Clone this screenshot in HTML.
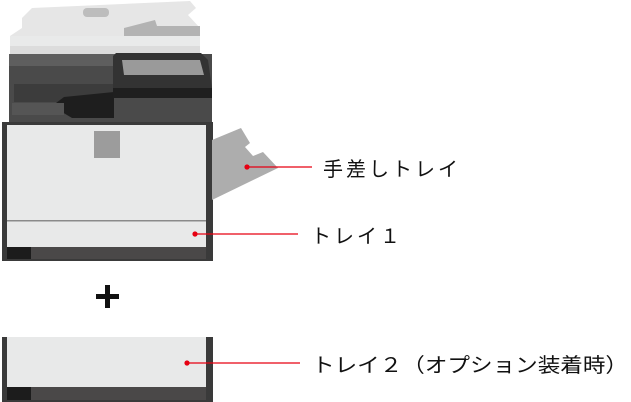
<!DOCTYPE html>
<html><head><meta charset="utf-8"><style>html,body{margin:0;padding:0;background:#fff}svg{display:block}</style></head>
<body>
<svg width="631" height="402" viewBox="0 0 631 402" xmlns="http://www.w3.org/2000/svg" font-family="'Liberation Sans','Noto Sans CJK JP',sans-serif">
<!-- scanner top -->
<polygon points="22,18 32,8 190,1 196,8 188,15 200,28 200,56 10,56 10,36 22,28" fill="#e6e6e6"/>
<polygon points="10,36 200,36 200,56 10,56" fill="#e9eaea"/>
<rect x="10" y="46" width="190" height="9" fill="#dcdcdc"/>
<rect x="83" y="8" width="26" height="9" rx="4" fill="#bdbdbd"/>
<polygon points="124,28 155,20 157,26 200,26 200,36 124,36" fill="#b3b3b3"/>
<!-- body dark upper -->
<rect x="9" y="54" width="203" height="70" fill="#4a4a4a"/>
<rect x="9" y="54" width="106" height="12" fill="#5e5e5e"/>
<rect x="14" y="84" width="100" height="18" fill="#3c3c3c"/>
<polygon points="52,106 64,97 114,92 114,118 72,118" fill="#1e1e1e"/>
<rect x="12" y="103" width="52" height="12" fill="#555"/>
<!-- control panel -->
<polygon points="113,56 116,53 201,53 208,60 212,88 113,88" fill="#333"/>
<polygon points="122,60 200,60 204,75 124,75" fill="#9a9a9a"/>
<rect x="113" y="88" width="99" height="10" fill="#1f1f1f"/>
<!-- main cabinet -->
<rect x="2" y="122" width="211" height="139" fill="#3a3a3a"/>
<rect x="7" y="125" width="199" height="95" fill="#e8e9e9"/>
<rect x="7" y="220" width="199" height="1.5" fill="#8a8a8a"/>
<rect x="7" y="221.5" width="199" height="25.5" fill="#e8e9e9"/>
<rect x="7" y="247" width="199" height="12" fill="#4a4848"/>
<rect x="7" y="247" width="24" height="12" fill="#1c1c1c"/>
<rect x="94" y="131" width="26" height="27" fill="#9c9c9c"/>
<!-- manual tray -->
<polygon points="212,140 241,128 250,143 245,147 253,156 263,152 278,168 212,200" fill="#adadad"/>
<!-- leaders -->
<line x1="247" y1="167" x2="312" y2="167" stroke="#e60012" stroke-width="1.3"/>
<circle cx="247" cy="167" r="2.6" fill="#e60012"/>
<line x1="195" y1="234" x2="298" y2="234" stroke="#e60012" stroke-width="1.3"/>
<circle cx="195" cy="234" r="2.6" fill="#e60012"/>
<text x="323" y="176" font-size="20" letter-spacing="3" fill="#111">手差しトレイ</text>
<text x="311" y="243" font-size="20" letter-spacing="3" fill="#111">トレイ１</text>
<!-- plus -->
<rect x="96" y="294" width="23" height="5" fill="#111"/>
<rect x="105" y="285" width="5" height="23" fill="#111"/>
<!-- tray 2 -->
<rect x="2" y="337" width="211" height="65" fill="#3a3a3a"/>
<rect x="7" y="337" width="199" height="50" fill="#e8e9e9"/>
<rect x="7" y="387" width="199" height="13" fill="#4a4848"/>
<rect x="7" y="387" width="24" height="13" fill="#1c1c1c"/>
<line x1="187" y1="363" x2="300" y2="363" stroke="#e60012" stroke-width="1.3"/>
<circle cx="187" cy="363" r="2.6" fill="#e60012"/>
<text x="312" y="372" font-size="20" textLength="316" lengthAdjust="spacingAndGlyphs" fill="#111">トレイ２（オプション装着時）</text>
</svg>
</body></html>
